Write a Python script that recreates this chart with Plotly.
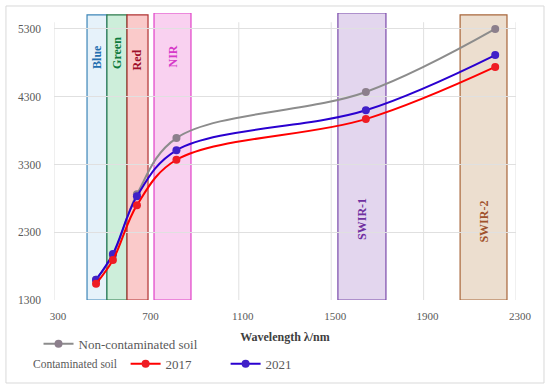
import plotly.graph_objects as go

# ---- data ----
wavelength = [482, 555, 659, 830, 1650, 2210]
non_contaminated = [1600, 1960, 2860, 3690, 4370, 5300]
contaminated_2017 = [1540, 1890, 2700, 3370, 3970, 4740]
contaminated_2021 = [1600, 1980, 2830, 3510, 4100, 4915]

band_names = ["Blue", "Green", "Red", "NIR", "SWIR-1", "SWIR-2"]
band_start = [443, 529, 616, 733, 1529, 2058]
band_end = [529, 616, 707, 893, 1737, 2261]
band_top = [5507, 5507, 5507, 5536, 5536, 5507]
band_label_y = [4887, 4946, 4842, 4887, 2496, 2451]

x_ticks = [300, 700, 1100, 1500, 1900, 2300]
y_ticks = [1300, 2300, 3300, 4300, 5300]

# ---- styles ----
band_fill = ["rgba(222,238,248,0.75)", "rgba(200,236,214,0.9)", "rgba(250,196,196,0.9)",
             "rgba(248,204,238,0.9)", "rgba(224,210,236,0.9)", "rgba(234,218,202,0.9)"]
band_line = ["#3d85b8", "#2a7a4a", "#b03030", "#e040c8", "#7a4aaa", "#a8663a"]
band_text = ["#1f6fb0", "#0e7a3c", "#a0102a", "#d63ac8", "#7030a0", "#a0522d"]

FONT = "Liberation Serif"
GRID = "#e0e0e0"
fig = go.Figure()

fig.add_trace(go.Scatter(
    x=wavelength, y=non_contaminated, mode="lines+markers",
    name="Non-contaminated soil", line=dict(color="#8c8c8c", width=2, shape="spline"),
    marker=dict(color="#8c7f8c", size=8), legend="legend", showlegend=True))
fig.add_trace(go.Scatter(
    x=wavelength, y=contaminated_2021, mode="lines+markers",
    name="2021", line=dict(color="#2a00d0", width=2, shape="spline"),
    marker=dict(color="#4020c8", size=8), legend="legend2", legendrank=2, showlegend=True))
fig.add_trace(go.Scatter(
    x=wavelength, y=contaminated_2017, mode="lines+markers",
    name="2017", line=dict(color="#ff0000", width=2, shape="spline"),
    marker=dict(color="#ee1c24", size=8), legend="legend2", legendrank=1, showlegend=True))

shapes = []
annotations = []
# vertical gridlines (stop a little above the top tick, as in the original)
for xv in x_ticks:
    shapes.append(dict(type="line", xref="x", yref="y", x0=xv, x1=xv, y0=1300, y1=5400,
                       line=dict(color=GRID, width=1), layer="below"))
for i, nm in enumerate(band_names):
    shapes.append(dict(type="rect", xref="x", yref="y", x0=band_start[i], x1=band_end[i],
                       y0=1300, y1=band_top[i], fillcolor=band_fill[i],
                       line=dict(color=band_line[i], width=1.2), layer="below"))
    annotations.append(dict(x=(band_start[i] + band_end[i]) / 2, y=band_label_y[i],
                            xref="x", yref="y", text="<b>%s</b>" % nm, textangle=-90,
                            showarrow=False, font=dict(family=FONT, size=12, color=band_text[i])))

# legend row label
annotations.append(dict(x=-0.05, y=-0.222, xref="paper", yref="paper", xanchor="left",
                        yanchor="middle", text="Contaminated soil", showarrow=False,
                        font=dict(family=FONT, size=11.5, color="#595959")))

# outer border
shapes.append(dict(type="rect", xref="paper", yref="paper", x0=-0.104, x1=1.0606,
                   y0=-0.2892, y1=1.0244, line=dict(color="#d9d9d9", width=1)))

fig.update_layout(
    width=550, height=391,
    margin=dict(l=54, r=34, t=13, b=91, autoexpand=False),
    paper_bgcolor="white", plot_bgcolor="white",
    showlegend=True,
    font=dict(family=FONT, color="#595959", size=11),
    shapes=shapes, annotations=annotations,
    legend=dict(x=-0.0335, y=-0.153, xanchor="left", yanchor="middle",
                orientation="h", font=dict(family=FONT, size=13, color="#595959"),
                bgcolor="rgba(0,0,0,0)"),
    legend2=dict(x=0.155, y=-0.222, xanchor="left", yanchor="middle",
                 orientation="h", font=dict(family=FONT, size=13, color="#595959"),
                 entrywidth=55,
                 bgcolor="rgba(0,0,0,0)", traceorder="normal"),
)
fig.update_xaxes(range=[300, 2300], tickvals=x_ticks, showgrid=False,
                 zeroline=False, showline=False, ticklabelstandoff=8, ticklabelshift=4,
                 tickfont=dict(family=FONT, size=11, color="#595959"),
                 title=dict(text="<b>Wavelength λ/nm</b>", standoff=11,
                            font=dict(family=FONT, size=12, color="#404040")))
fig.update_yaxes(range=[1300, 5536], tickvals=y_ticks, showgrid=True, gridcolor=GRID,
                 zeroline=False, showline=False, ticklabelstandoff=12,
                 tickfont=dict(family=FONT, size=11.5, color="#595959"))

fig.write_html("out.html", config={"displayModeBar": False},
               post_script="document.body.style.margin='0';")
